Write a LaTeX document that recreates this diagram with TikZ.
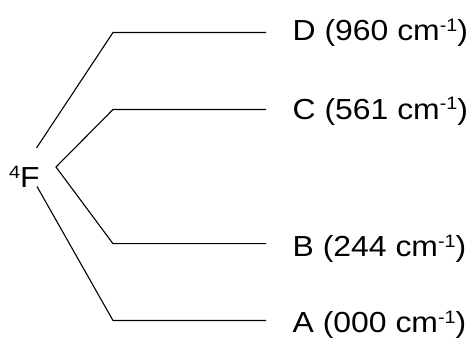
\documentclass[tikz,border=0pt]{standalone}
\usepackage{fontspec}
\setmainfont{Liberation Sans}[FakeStretch=1.1]
\newcommand{\supr}[1]{\raisebox{9.5pt}{\fontsize{18}{18}\selectfont #1}}
\begin{document}
\begin{tikzpicture}[x=1pt,y=-1pt,
  lvl/.style={line width=1.1pt,line join=miter},
  lab/.style={anchor=base west,inner sep=0pt,font=\fontsize{29}{31}\selectfont}]
\useasboundingbox (0,0) rectangle (472,339);
% term symbol
\node[lab] (f) at (9,188) {\supr{4}F};
% level labels
\node[lab] (d) at (292.5,41) {D (960 cm\supr{-1})};
\node[lab] (c) at (292.5,119.5) {C (561 cm\supr{-1})};
\node[lab] (b) at (292.5,257) {B (244 cm\supr{-1})};
\node[lab] (a) at (292.5,333) {A (000 cm\supr{-1})};
% coordinates
\coordinate (ds) at (36.5,148);
\coordinate (db) at (113,32.5);
\coordinate (de) at (266,32.5);
\coordinate (cs) at (56,167);
\coordinate (cb) at (113,109.5);
\coordinate (ce) at (266,109.5);
\coordinate (bb) at (113,243.7);
\coordinate (be) at (266,243.7);
\coordinate (as) at (37,186.5);
\coordinate (ab) at (113,320.5);
\coordinate (ae) at (266,320.5);
\draw[lvl] (ds) -- (db) -- (de);
\draw[lvl] (ce) -- (cb) -- (cs) -- (bb) -- (be);
\draw[lvl] (as) -- (ab) -- (ae);
\end{tikzpicture}
\end{document}
